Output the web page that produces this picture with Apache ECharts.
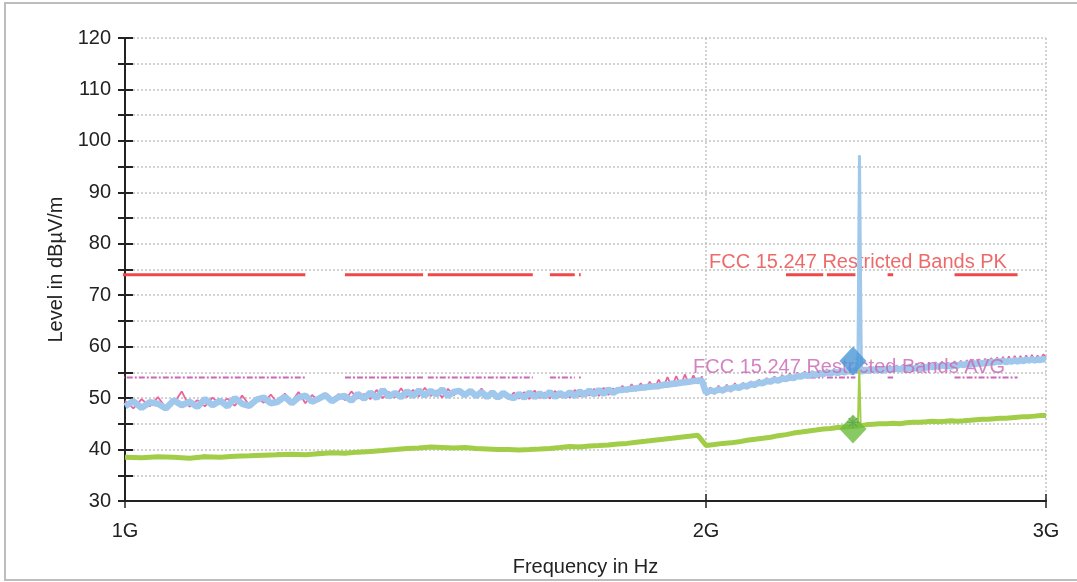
<!DOCTYPE html>
<html><head><meta charset="utf-8">
<script src="https://cdn.jsdelivr.net/npm/echarts@6/dist/echarts.min.js"></script>
<style>html,body{margin:0;padding:0;background:#fff}#c{width:1077px;height:582px}</style>
</head><body><div id="c"></div>
<script>
// ---------- data ----------
const tickFreqsGHz = [1, 2, 3];
const tickLabels = ['1G', '2G', '3G'];
const yMin = 30, yMax = 120, yStep = 5;

// FCC restricted bands (GHz) inside 1-3 GHz
const restrictedBandsGHz = [[0.96,1.24],[1.3,1.427],[1.435,1.6265],[1.6455,1.6465],[1.66,1.71],[1.7188,1.7222],[2.2,2.3],[2.31,2.39],[2.4835,2.5],[2.69,2.9]];
const limitPK = 74;
const limitAVG = 54;

// peak sweep: 1.00 GHz .. 3.00 GHz, 10 MHz step
const pkSweepStartGHz = 1.0, pkSweepStepGHz = 0.01;
const pinkLevels = [
49.5,48.0,49.8,48.4,50.2,48.1,49.0,51.3,48.3,49.6,
48.4,50.1,48.9,49.9,48.5,50.5,48.6,50.0,49.1,50.7,
48.9,50.9,49.3,51.2,49.0,50.6,49.4,51.0,49.2,50.8,
49.6,51.3,49.9,50.8,49.8,51.6,50.0,51.2,50.1,51.9,
50.2,51.6,50.3,52.0,50.4,51.5,50.1,51.8,50.5,51.7,
50.3,51.4,50.1,51.9,50.0,51.3,49.9,51.2,49.8,51.1,
49.9,51.2,49.8,51.5,50.0,51.1,49.9,51.4,50.2,51.0,
50.1,51.6,50.3,51.4,50.5,51.8,50.4,52.0,50.6,51.9,
51.0,52.4,51.2,52.7,51.4,52.9,51.6,53.2,51.8,53.6,
52.0,54.1,52.2,54.3,52.4,54.6,52.6,54.4,52.8,54.2,
50.6,52.1,50.8,52.4,51.0,52.6,51.2,52.9,51.5,53.0,
51.8,53.3,52.1,53.6,52.5,53.9,52.8,54.2,53.0,54.5,
53.3,54.8,53.5,55.0,53.8,55.2,54.0,55.3,54.1,55.4,
54.3,55.6,54.4,55.7,54.5,55.8,54.6,55.9,54.7,55.9,
54.9,56.0,55.0,56.1,55.0,56.2,55.1,56.1,55.2,56.3,
55.2,56.4,55.3,56.5,55.4,56.6,55.3,56.7,55.5,56.8,
55.5,56.9,55.6,57.0,55.7,57.1,55.8,56.9,55.9,57.2,
55.9,57.3,56.0,57.4,56.1,57.5,56.2,57.6,56.3,57.7,
56.4,57.8,56.5,57.9,56.6,58.0,56.7,58.1,56.8,58.2,
56.9,58.2,57.0,58.3,57.1,58.4,57.2,58.3,57.3,58.5,
57.9];
const blueLevels = [
48.4,49.4,48.1,49.2,48.9,48.0,49.6,48.6,49.3,48.3,
49.8,48.6,49.5,48.4,50.0,48.9,48.5,49.7,50.1,49.0,
49.3,50.3,49.0,50.1,50.5,49.3,49.9,50.6,49.4,50.2,
50.4,49.5,50.8,49.9,51.1,50.0,51.6,50.3,51.0,50.2,
51.3,50.4,51.5,50.5,51.4,50.7,51.7,50.4,51.2,51.4,
50.6,51.4,50.4,51.2,50.2,51.1,50.1,51.0,50.3,50.0,
50.8,50.1,51.1,50.2,50.9,50.3,51.2,50.2,51.0,50.4,
51.1,50.4,51.3,50.6,51.5,50.7,51.6,50.8,51.7,51.0,
51.6,51.6,51.7,51.8,51.9,52.0,52.1,52.2,52.3,52.3,
52.6,52.6,52.8,52.8,53.0,53.1,53.2,53.3,53.4,53.4,
51.0,51.5,51.3,51.7,51.5,51.9,51.8,52.2,52.0,52.4,
52.3,52.7,52.6,53.0,52.9,53.3,53.2,53.6,53.4,53.8,
53.7,54.1,53.9,54.3,54.2,54.5,54.3,54.7,54.5,54.8,
54.7,55.0,54.8,55.1,54.9,55.2,55.0,55.3,55.1,55.3,
55.4,55.2,55.5,55.3,55.6,55.4,55.5,55.3,55.7,55.5,
55.6,55.8,55.5,55.9,55.7,56.0,55.7,55.9,55.8,56.1,
55.9,56.2,56.0,56.3,56.1,56.4,56.2,56.3,56.1,56.5,
56.3,56.6,56.4,56.7,56.5,56.8,56.6,56.9,56.7,56.9,
56.8,57.1,56.9,57.2,57.0,57.3,57.0,57.2,57.1,57.4,
57.1,57.4,57.2,57.5,57.3,57.6,57.3,57.5,57.4,57.6,
57.5];
// narrow carrier around 2.402 GHz
const blueSpikeFreqGHz = [2.397, 2.4015, 2.4025, 2.407];
const blueSpikeLevels = [55.4, 97.2, 97.2, 55.5];

// average sweep: 1.00 GHz .. 3.00 GHz, 20 MHz step
const avSweepStartGHz = 1.0, avSweepStepGHz = 0.02;
const greenLevels = [
38.5,38.4,38.6,38.5,38.3,38.6,38.5,38.7,38.8,38.9,
39.0,39.1,39.0,39.2,39.4,39.3,39.5,39.6,39.8,40.0,
40.2,40.3,40.5,40.4,40.3,40.4,40.2,40.1,40.0,40.0,
39.9,40.0,40.1,40.2,40.4,40.6,40.5,40.7,40.8,40.9,
41.1,41.2,41.4,41.6,41.8,42.0,42.2,42.4,42.6,42.8,
40.8,41.0,41.2,41.3,41.5,41.8,42.0,42.2,42.4,42.7,
42.9,43.2,43.4,43.6,43.8,44.0,44.1,44.3,44.4,44.5,
44.6,44.8,44.9,45.0,45.0,45.1,45.0,45.2,45.3,45.3,
45.4,45.5,45.4,45.5,45.6,45.5,45.6,45.7,45.8,45.9,
45.9,46.0,46.1,46.1,46.2,46.3,46.4,46.4,46.5,46.6,
46.6];
const greyLevels = [
38.7,38.3,38.8,38.4,38.5,38.9,38.3,38.6,39.0,38.7,
39.3,38.9,39.2,39.5,39.2,39.6,39.3,39.9,39.6,40.2,
40.0,40.6,40.3,40.7,40.1,40.6,40.0,40.3,39.8,40.2,
40.1,39.8,40.3,40.0,40.6,40.4,40.8,40.5,41.0,40.7,
41.3,41.0,41.6,41.4,42.0,41.8,42.4,42.2,42.8,42.6,
41.0,40.8,41.4,41.1,41.7,41.6,42.2,42.0,42.6,42.5,
43.1,43.0,43.6,43.4,44.0,43.8,44.3,44.1,44.6,44.4,
44.8,44.6,45.1,44.8,45.2,44.9,45.2,45.0,45.5,45.1,
45.6,45.3,45.6,45.3,45.8,45.4,45.8,45.5,46.0,45.7,
46.1,45.8,46.3,45.9,46.4,46.1,46.6,46.2,46.7,46.4,
46.8];
const greenSpikeFreqGHz = [2.397, 2.401, 2.4025, 2.405];
const greenSpikeLevels = [44.6, 56.0, 56.0, 44.7];

// markers at 2.39 GHz band edge
const markerFreqGHz = 2.383;
const markerPK = 57.2;
const markerAV = 44.0;
const markerStarLevel = 45.3;

// annotations
const annotationTexts = ['FCC 15.247 Restricted Bands PK', 'FCC 15.247 Restricted Bands AVG'];
const annotationColors = ['#e84545', '#c864b4'];
const annotationFreqGHz = [2.007, 1.969];
const annotationLevels = [76.4, 56.0];

// ---------- build ----------
const G = 1e9;
function sweep(start, step, levels) {
  return levels.map((v, i) => [Math.round((start + i * step) * 1e6) / 1e6 * G, v]);
}
function pairs(fs, vs) { return fs.map((f, i) => [f * G, vs[i]]); }
function limitData(level) {
  const d = [];
  restrictedBandsGHz.forEach((b, i) => {
    if (i > 0) d.push([(restrictedBandsGHz[i - 1][1] + b[0]) / 2 * G, '-']);
    d.push([b[0] * G, level]);
    d.push([b[1] * G, level]);
  });
  return d;
}
const FONT = 'Liberation Sans, Arial, sans-serif';
const tickVals = tickFreqsGHz.map(f => f * G);
const lineBase = { type: 'line', showSymbol: false, silent: true, animation: false, clip: true };

const chart = echarts.init(document.getElementById('c'), null, { renderer: 'canvas' });
chart.setOption({
  backgroundColor: '#ffffff',
  animation: false,
  grid: { left: 125, right: 31, top: 38, bottom: 80 },
  graphic: [{
    type: 'rect', silent: true, z: -1,
    shape: { x: 5, y: 3, width: 1090, height: 577 },
    style: { fill: 'none', stroke: '#bdbdbd', lineWidth: 2 }
  }],
  xAxis: [{
    type: 'log', logBase: 10, min: 1 * G, max: 3 * G,
    name: 'Frequency in Hz', nameLocation: 'middle', nameGap: 56,
    nameTextStyle: { fontFamily: FONT, fontSize: 20, color: '#222' },
    axisLine: { show: true, lineStyle: { color: '#222', width: 2 } },
    axisTick: { show: true, length: 7, customValues: tickVals, lineStyle: { color: '#222', width: 1.5 } },
    axisLabel: {
      show: true, customValues: tickVals, margin: 20,
      fontFamily: FONT, fontSize: 20, color: '#222',
      formatter: v => tickLabels[tickVals.findIndex(t => Math.abs(t - v) < 1e6)] || ''
    },
    splitLine: { show: true, lineStyle: { color: '#c4c4c4', width: 1.5, type: [2, 2] } },
    minorTick: { show: false }, minorSplitLine: { show: false }
  }, {
    type: 'log', logBase: 10, min: 1 * G, max: 3 * G, position: 'bottom',
    axisLine: { show: false },
    axisTick: { show: true, inside: true, length: 7, customValues: tickVals, lineStyle: { color: '#222', width: 1.5 } },
    axisLabel: { show: false }, splitLine: { show: false }
  }],
  yAxis: [{
    type: 'value', min: yMin, max: yMax, interval: yStep,
    name: 'Level in dBµV/m', nameLocation: 'middle', nameGap: 56, nameRotate: 90,
    nameTextStyle: { fontFamily: FONT, fontSize: 20, color: '#222' },
    axisLine: { show: true, lineStyle: { color: '#222', width: 2 } },
    axisTick: { show: true, length: 7, lineStyle: { color: '#222', width: 2 } },
    axisLabel: {
      margin: 14, fontFamily: FONT, fontSize: 20, color: '#222',
      formatter: v => (v % 10 === 0 ? String(v) : '')
    },
    splitLine: { show: true, lineStyle: { color: '#c4c4c4', width: 1.5, type: [2, 2] } }
  }, {
    type: 'value', min: yMin, max: yMax, interval: yStep, position: 'left',
    axisLine: { show: false },
    axisTick: { show: true, inside: true, length: 8, lineStyle: { color: '#222', width: 2 } },
    axisLabel: { show: false }, splitLine: { show: false }
  }],
  series: [
    Object.assign({}, lineBase, { name: 'PK limit', data: limitData(limitPK), connectNulls: false, z: 2,
      lineStyle: { color: '#f04848', width: 3 } }),
    Object.assign({}, lineBase, { name: 'AVG limit', data: limitData(limitAVG), connectNulls: false, z: 2,
      lineStyle: { color: '#c868b8', width: 2, type: [6, 2, 2, 2] } }),
    Object.assign({}, lineBase, { name: 'grey', data: sweep(avSweepStartGHz, avSweepStepGHz, greyLevels), z: 3,
      lineStyle: { color: '#505050', width: 1.2 } }),
    Object.assign({}, lineBase, { name: 'green', data: sweep(avSweepStartGHz, avSweepStepGHz, greenLevels), z: 3,
      lineStyle: { color: '#a2cd48', width: 5 } }),
    Object.assign({}, lineBase, { name: 'pink', data: sweep(pkSweepStartGHz, pkSweepStepGHz, pinkLevels), z: 3,
      lineStyle: { color: '#f0609a', width: 1.8 } }),
    Object.assign({}, lineBase, { name: 'blue', data: sweep(pkSweepStartGHz, pkSweepStepGHz, blueLevels), z: 3,
      lineStyle: { color: '#a0c8ec', width: 6.5 } }),
    {
      type: 'scatter', silent: true, animation: false, z: 4, symbolSize: 0,
      data: annotationTexts.map((t, i) => ({
        value: [annotationFreqGHz[i] * G, annotationLevels[i]], name: t,
        label: { color: annotationColors[i] }
      })),
      label: {
        show: true, position: 'right', distance: 0, fontFamily: FONT, fontSize: 20,
        formatter: p => p.name
      }
    },
    Object.assign({}, lineBase, { name: 'green spike', data: pairs(greenSpikeFreqGHz, greenSpikeLevels), z: 5,
      lineStyle: { color: '#a2cd48', width: 2 } }),
    Object.assign({}, lineBase, { name: 'blue spike', data: pairs(blueSpikeFreqGHz, blueSpikeLevels), z: 5,
      lineStyle: { color: '#a0c8ec', width: 3 } }),
    {
      type: 'scatter', silent: true, animation: false, z: 6,
      symbol: 'path://M0,-6L0,6M-6,0L6,0M-4.2,-4.2L4.2,4.2M-4.2,4.2L4.2,-4.2',
      symbolSize: 12,
      itemStyle: { color: 'none', borderColor: '#2c4c9c', borderWidth: 1.2 },
      data: [[markerFreqGHz * G, markerStarLevel]]
    },
    {
      type: 'scatter', silent: true, animation: false, z: 7, symbol: 'diamond', symbolSize: [27, 29],
      data: [
        { value: [markerFreqGHz * G, markerPK], itemStyle: { color: '#4a96d6' } },
        { value: [markerFreqGHz * G, markerAV], itemStyle: { color: '#6cbc3c' } }
      ]
    }
  ]
});
</script></body></html>
